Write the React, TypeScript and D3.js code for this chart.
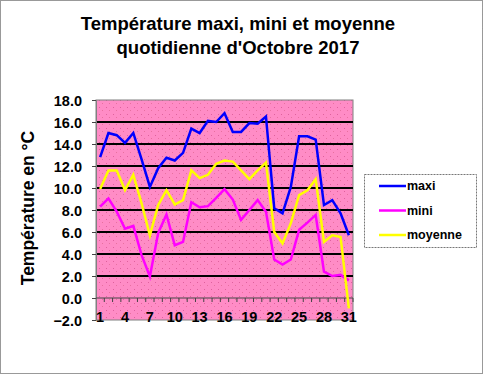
import { useEffect, useRef } from "react";
import * as d3 from "d3";

const days = d3.range(1, 32).map(String);
const maxi = [12.8, 15.0, 14.8, 14.1, 15.0, 12.6, 10.1, 11.8, 12.75, 12.5, 13.2, 15.4, 15.0, 16.1, 16.0, 16.8,
  15.1, 15.1, 15.9, 15.85, 16.5, 8.15, 7.7, 10.1, 14.7, 14.7, 14.4, 8.45, 8.9, 7.7, 5.7];
const mini = [8.3, 9.05, 7.85, 6.3, 6.55, 3.9, 1.95, 5.9, 7.6, 4.8, 5.1, 8.7, 8.25, 8.35, 9.1, 9.9,
  8.95, 7.1, 8.0, 8.9, 7.85, 3.5, 3.05, 3.5, 6.2, 6.85, 7.55, 2.4, 2.0, 2.1, 1.6];
const moyenne = [9.9, 11.6, 11.6, 9.8, 11.2, 8.6, 5.7, 8.45, 9.8, 8.5, 8.9, 11.6, 10.9, 11.2, 12.2, 12.5,
  12.4, 11.6, 10.8, 11.6, 12.3, 6.0, 4.95, 6.8, 9.35, 9.8, 10.8, 5.1, 5.7, 5.55, -0.95];
const yTicks = d3.range(-2, 18.1, 2);
const xLabels = ["1", "4", "7", "10", "13", "16", "19", "22", "25", "28", "31"];

const series = [
  { name: "maxi", values: maxi, color: "#0000ff" },
  { name: "mini", values: mini, color: "#ff00ff" },
  { name: "moyenne", values: moyenne, color: "#ffff00" },
];

const W = 484;
const H = 375;
const plot = { left: 96, right: 353, top: 100, bottom: 320 };
const font = "Arial, 'Liberation Sans', sans-serif";

export default function App() {
  const svgRef = useRef<SVGSVGElement>(null);

  useEffect(() => {
    const svg = d3.select(svgRef.current);
    svg.selectAll("*").remove();

    const x = d3.scalePoint<string>().domain(days).range([plot.left, plot.right]).padding(0.5);
    const y = d3.scaleLinear().domain([-2, 18]).range([plot.bottom, plot.top]);
    const step = x.step();

    // outer frame
    svg.append("rect")
      .attr("x", 0.5).attr("y", 0.5).attr("width", W - 2).attr("height", H - 2)
      .attr("fill", "#fff").attr("stroke", "#333").attr("stroke-dasharray", "1,1");

    // dotted pink background
    const defs = svg.append("defs");
    const pat = defs.append("pattern").attr("id", "dots")
      .attr("width", 7).attr("height", 7).attr("patternUnits", "userSpaceOnUse");
    pat.append("rect").attr("width", 7).attr("height", 7).attr("fill", "#ff8cc6");
    pat.append("rect").attr("x", 1).attr("y", 2).attr("width", 1).attr("height", 1).attr("fill", "#e0609e");
    pat.append("rect").attr("x", 4).attr("y", 5).attr("width", 1).attr("height", 1).attr("fill", "#e8709f");

    svg.append("rect")
      .attr("x", plot.left).attr("y", plot.top)
      .attr("width", plot.right - plot.left).attr("height", plot.bottom - plot.top)
      .attr("fill", "url(#dots)").attr("stroke", "#808080").attr("stroke-width", 1);

    // gridlines
    svg.append("g")
      .selectAll("line")
      .data(yTicks.filter((t) => t > 0 && t < 18))
      .join("line")
      .attr("x1", plot.left).attr("x2", plot.right)
      .attr("y1", (d) => y(d)).attr("y2", (d) => y(d))
      .attr("stroke", "#000").attr("stroke-width", 2);

    // y axis
    const yAxis = svg.append("g")
      .attr("transform", `translate(${plot.left},0)`)
      .call(d3.axisLeft(y).tickValues(yTicks).tickFormat(d3.format(".1f")).tickSize(4).tickPadding(10));
    yAxis.select(".domain").attr("stroke", "#808080");
    yAxis.selectAll(".tick line").attr("stroke", "#444");
    yAxis.selectAll("text")
      .attr("font-family", font).attr("font-size", 14.5).attr("font-weight", "bold").attr("fill", "#000")
      .attr("dy", "0.36em");

    // x axis at zero
    svg.append("line")
      .attr("x1", plot.left).attr("x2", plot.right)
      .attr("y1", y(0)).attr("y2", y(0))
      .attr("stroke", "#444").attr("stroke-width", 1);
    svg.append("g")
      .selectAll("line")
      .data(days)
      .join("line")
      .attr("x1", (d) => (x(d) as number) + step / 2).attr("x2", (d) => (x(d) as number) + step / 2)
      .attr("y1", y(0)).attr("y2", y(0) + 4)
      .attr("stroke", "#444");
    svg.append("g")
      .selectAll("text")
      .data(xLabels)
      .join("text")
      .attr("x", (d) => x(d) as number)
      .attr("y", plot.bottom + 2)
      .attr("text-anchor", "middle")
      .attr("font-family", font).attr("font-size", 14.5).attr("font-weight", "bold")
      .text((d) => d);

    // lines
    const line = d3.line<number>()
      .x((_, i) => x(days[i]) as number)
      .y((d) => y(d));
    svg.append("g")
      .selectAll("path")
      .data(series)
      .join("path")
      .attr("d", (s) => line(s.values))
      .attr("fill", "none")
      .attr("stroke", (s) => s.color)
      .attr("stroke-width", 2.5)
      .attr("stroke-linejoin", "miter");

    // titles
    const title = svg.append("text")
      .attr("x", 238).attr("text-anchor", "middle")
      .attr("font-family", font).attr("font-size", 18.5).attr("font-weight", "bold");
    title.append("tspan").attr("x", 238).attr("y", 30).text("Température maxi, mini et moyenne");
    title.append("tspan").attr("x", 238).attr("y", 54).text("quotidienne d'Octobre 2017");

    svg.append("text")
      .attr("transform", "translate(34,208) rotate(-90)")
      .attr("text-anchor", "middle")
      .attr("font-family", font).attr("font-size", 17.5).attr("font-weight", "bold")
      .text("Température en °C");

    // legend
    const lg = svg.append("g");
    lg.append("rect")
      .attr("x", 364.5).attr("y", 174.5).attr("width", 112).attr("height", 73)
      .attr("fill", "#fff").attr("stroke", "#777").attr("stroke-dasharray", "2,1");
    const item = lg.selectAll("g.item").data(series).join("g")
      .attr("transform", (_, i) => `translate(0,${186 + i * 24.5})`);
    item.append("line")
      .attr("x1", 379).attr("x2", 406).attr("y1", 0).attr("y2", 0)
      .attr("stroke", (s) => s.color).attr("stroke-width", 2.5);
    item.append("text")
      .attr("x", 407).attr("y", 0).attr("dy", "0.35em")
      .attr("font-family", font).attr("font-size", 12.5).attr("font-weight", "bold")
      .text((s) => s.name);
  }, []);

  return (
    <svg ref={svgRef} width={W} height={H} style={{ position: "absolute", left: 0, top: 0 }} />
  );
}
